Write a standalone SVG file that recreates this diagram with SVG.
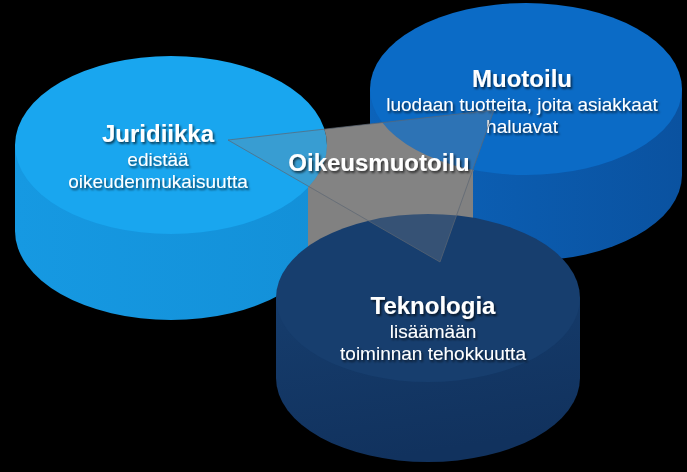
<svg xmlns="http://www.w3.org/2000/svg" width="687" height="472" viewBox="0 0 687 472">
  <style>
    .title { font-family: "Liberation Sans", Arial, sans-serif; font-weight: bold; font-size: 24px; fill: #ffffff; text-anchor: middle; }
    .sub { font-family: "Liberation Sans", Arial, sans-serif; font-size: 19px; fill: #ffffff; text-anchor: middle; }
    .edge { fill: none; stroke: #5c6773; stroke-width: 1; stroke-opacity: 0.7; }
  </style>
  <defs>
    <filter id="ts" x="-10%" y="-30%" width="125%" height="170%">
      <feDropShadow dx="1.5" dy="2" stdDeviation="1.3" flood-color="#000000" flood-opacity="0.65"/>
    </filter>
    <linearGradient id="jurSide" x1="0" y1="0" x2="1" y2="0">
      <stop offset="0" stop-color="#1699e2"/>
      <stop offset="1" stop-color="#1390d8"/>
    </linearGradient>
    <linearGradient id="muoSide" x1="0" y1="0" x2="1" y2="0">
      <stop offset="0" stop-color="#0c63ba"/>
      <stop offset="1" stop-color="#0a52a0"/>
    </linearGradient>
    <linearGradient id="tekSide" x1="0" y1="0" x2="0.3" y2="1">
      <stop offset="0" stop-color="#163d6d"/>
      <stop offset="1" stop-color="#11325e"/>
    </linearGradient>
    <mask id="boxMask" maskUnits="userSpaceOnUse" x="0" y="0" width="687" height="472">
      <rect x="0" y="0" width="687" height="472" fill="#ffffff"/>
      <ellipse cx="171" cy="145" rx="156" ry="89" fill="#000000"/>
      <ellipse cx="526" cy="89" rx="156" ry="86" fill="#000000"/>
    </mask>
  </defs>

  <rect x="0" y="0" width="687" height="472" fill="#000000"/>

  <g id="node-juridiikka">
    <path d="M15,145 L15,231 A156,89 0 0 0 327,231 L327,145 Z" fill="url(#jurSide)"/>
    <ellipse cx="171" cy="145" rx="156" ry="89" fill="#19a6ef"/>
    <text class="title" x="158" y="142" filter="url(#ts)">Juridiikka</text>
    <text class="sub" x="158" y="166" filter="url(#ts)">edistää</text>
    <text class="sub" x="158" y="188" filter="url(#ts)">oikeudenmukaisuutta</text>
  </g>

  <g id="node-muotoilu">
    <path d="M370,89 L370,175 A156,86 0 0 0 682,175 L682,89 Z" fill="url(#muoSide)"/>
    <ellipse cx="526" cy="89" rx="156" ry="86" fill="#0b6bc6"/>
    <text class="title" x="522" y="87" filter="url(#ts)">Muotoilu</text>
    <text class="sub" x="522" y="111" filter="url(#ts)">luodaan tuotteita, joita asiakkaat</text>
    <text class="sub" x="522" y="133" filter="url(#ts)">haluavat</text>
  </g>

  <g id="prism-side">
    <polygon points="300,131.9 494,110 473,172 473,330 308,330 308,186" fill="#818181" mask="url(#boxMask)"/>
  </g>

  <g id="node-teknologia">
    <path d="M276,298 L276,378 A152,84 0 0 0 580,378 L580,298 Z" fill="url(#tekSide)"/>
    <ellipse cx="428" cy="298" rx="152" ry="84" fill="#173e6e"/>
    <text class="title" x="433" y="314" filter="url(#ts)">Teknologia</text>
    <text class="sub" x="433" y="338" filter="url(#ts)">lisäämään</text>
    <text class="sub" x="433" y="360" filter="url(#ts)">toiminnan tehokkuutta</text>
  </g>

  <g id="node-oikeusmuotoilu">
    <polygon points="228,140 494,110 440,262" fill="#8a8a8a" fill-opacity="0.28"/>
    <polygon class="edge" points="228,140 494,110 440,262"/>
    <text class="title" x="379" y="171" filter="url(#ts)">Oikeusmuotoilu</text>
  </g>

  <g id="connectors"/>
</svg>
